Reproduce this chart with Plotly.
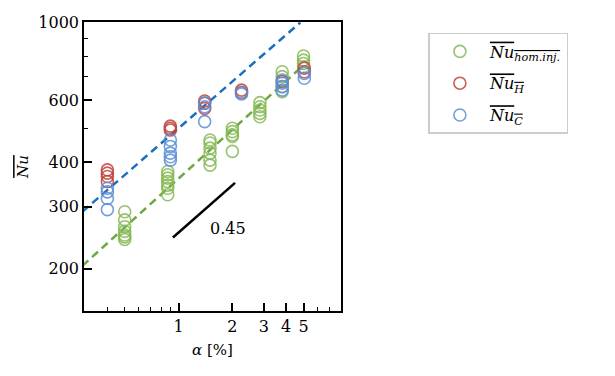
import numpy as np
import plotly.graph_objects as go

# --- data (alpha in %, Nu) ---
hom_alpha = [0.5] * 7 + [0.87] * 7 + [1.5] * 6 + [2.0] * 5 + [2.85] * 5 + [3.8] * 4 + [5.0] * 4
hom_nu = [290, 275, 263, 255, 249, 246, 242,
          377, 369, 361, 353, 345, 338, 324,
          463, 454, 439, 425, 406, 393,
          500, 489, 479, 474, 430,
          591, 575, 563, 551, 539,
          723, 700, 656, 635,
          801, 780, 763, 747]

hot_alpha = [0.4] * 4 + [0.9] * 3 + [1.4] * 3 + [2.25] * 2 + [3.8] * 1 + [5.05] * 2
hot_nu = [381, 373, 365, 353,
          507, 500, 494,
          597, 589, 569,
          641, 632,
          678,
          740, 723]

cold_alpha = [0.4] * 4 + [0.9] * 5 + [1.4] * 3 + [2.25] * 2 + [3.8] * 4 + [5.05] * 2
cold_nu = [338, 330, 316, 294,
           463, 444, 425, 415, 406,
           589, 575, 522,
           630, 625,
           685, 671, 656, 641,
           715, 693]

# power-law fits Nu = C * alpha^n
fit_hot = (500, 0.44)
fit_hom = (360, 0.46)
fit_range = [0.29, 4.8]

# slope indicator
slope_alpha = [0.93, 2.07]
slope_nu = [245, 350]
slope_label = "0.45"

GREEN = "#86b956"
RED = "#bf433d"
BLUE = "#5b8dd6"
FONT = "DejaVu Serif"

fig = go.Figure()

a = np.geomspace(fit_range[0], fit_range[1], 50)
fig.add_trace(go.Scatter(x=a, y=fit_hot[0] * a ** fit_hot[1], mode="lines",
                         line=dict(color="#1a70bd", width=2.5, dash="8px,5px"),
                         showlegend=False, hoverinfo="skip"))
fig.add_trace(go.Scatter(x=a, y=fit_hom[0] * a ** fit_hom[1], mode="lines",
                         line=dict(color="#6fa842", width=2.5, dash="8px,5px"),
                         showlegend=False, hoverinfo="skip"))

ovl = '<span style="text-decoration:overline"><i>Nu</i>{}</span>'
series = [
    (hom_alpha, hom_nu, GREEN, ovl.format("<sub><i>hom.inj.</i></sub>")),
    (hot_alpha, hot_nu, RED, ovl.format("<sub><i>H</i></sub>")),
    (cold_alpha, cold_nu, BLUE, ovl.format("<sub><i>C</i></sub>")),
]
for i, (xs, ys, col, name) in enumerate(series):
    fig.add_trace(go.Scatter(
        x=xs, y=ys, mode="markers", name=name, legendgroup=f"g{i}",
        marker=dict(symbol="circle-open", size=12, color=col, line=dict(width=1.6), opacity=0.85),
    ))

fig.add_trace(go.Scatter(x=slope_alpha, y=slope_nu, mode="lines",
                         line=dict(color="black", width=2.5), showlegend=False, hoverinfo="skip"))
fig.add_annotation(x=np.log10(1.89), y=np.log10(260), text=slope_label, showarrow=False,
                   font=dict(family=FONT, size=16, color="black"))

# the page body has an 8px margin, so the figure is shifted by 8px
fig.update_layout(
    width=607, height=368,
    margin=dict(l=76, r=274, t=14, b=65, autoexpand=False),
    paper_bgcolor="white", plot_bgcolor="white",
    font=dict(family=FONT, size=16, color="black"),
    legend=dict(x=1.34, y=0.962, xanchor="left", yanchor="top",
                bordercolor="#cccccc", borderwidth=1.5, bgcolor="white",
                font=dict(family=FONT, size=16), tracegroupgap=8, itemwidth=50),
    xaxis=dict(
        type="log", range=[np.log10(0.296), np.log10(8.1)], automargin=False,
        tickvals=[1, 2, 3, 4, 5], ticktext=["1", "2", "3", "4", "5"],
        ticks="inside", ticklen=8, tickwidth=1.5, tickcolor="black",
        minor=dict(tickvals=[0.4, 0.5, 0.6, 0.7, 0.8, 0.9, 6, 7, 8], ticks="inside",
                   ticklen=4, tickwidth=1.2, tickcolor="black", showgrid=False),
        showline=True, linecolor="black", linewidth=1.5, mirror=True,
        showgrid=False, zeroline=False,
        title=dict(text="<i>α</i> [%]", font=dict(size=15), standoff=10),
    ),
    yaxis=dict(
        type="log", range=[np.log10(151.7), 3], automargin=False,
        tickvals=[200, 300, 400, 600, 1000], ticktext=["200", "300", "400", "600", "1000"],
        ticks="inside", ticklen=8, tickwidth=1.5, tickcolor="black",
        minor=dict(tickvals=[500, 700, 800, 900], ticks="inside",
                   ticklen=4, tickwidth=1.2, tickcolor="black", showgrid=False),
        showline=True, linecolor="black", linewidth=1.5, mirror=True,
        showgrid=False, zeroline=False,
        title=dict(text='<span style="text-decoration:overline"><i>Nu</i></span>',
                   font=dict(size=15), standoff=6),
    ),
)

fig.write_html("out.html")
